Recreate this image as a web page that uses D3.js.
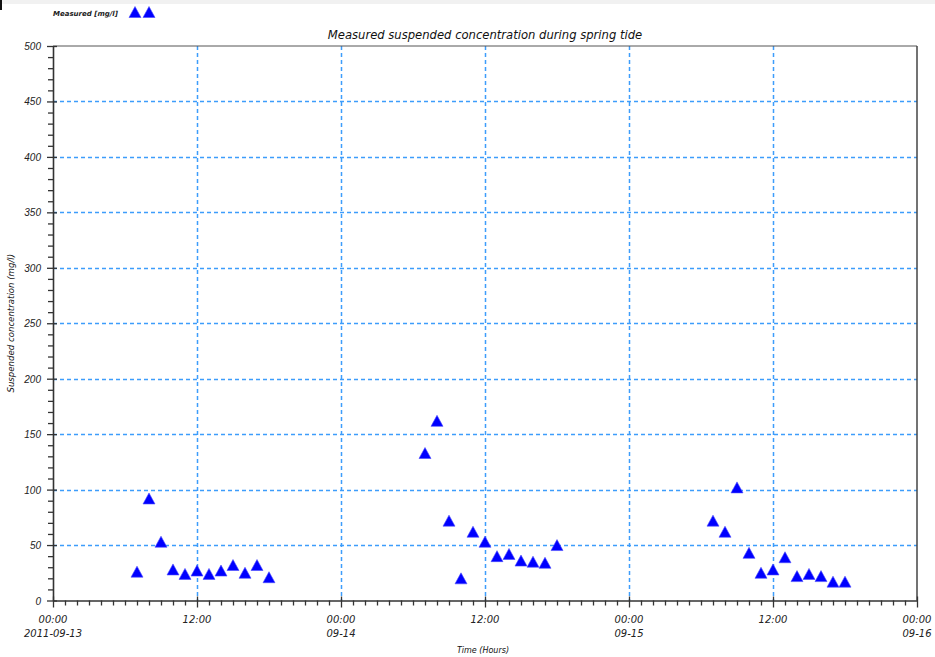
<!DOCTYPE html>
<html>
<head>
<meta charset="utf-8">
<script src="https://cdn.jsdelivr.net/npm/d3@7"></script>
<style>
  html, body { margin: 0; padding: 0; background: #fff; }
  svg { display: block; font-family: "DejaVu Sans", sans-serif; font-style: italic; }
</style>
</head>
<body>
<svg id="chart" width="935" height="657"></svg>
<script>
// Sample times (2011) and measured suspended concentration in mg/l
const sampleTimes = [
  "2011-09-13T07:00", "2011-09-13T08:00", "2011-09-13T09:00", "2011-09-13T10:00",
  "2011-09-13T11:00", "2011-09-13T12:00", "2011-09-13T13:00", "2011-09-13T14:00",
  "2011-09-13T15:00", "2011-09-13T16:00", "2011-09-13T17:00", "2011-09-13T18:00",
  "2011-09-14T07:00", "2011-09-14T08:00", "2011-09-14T09:00", "2011-09-14T10:00",
  "2011-09-14T11:00", "2011-09-14T12:00", "2011-09-14T13:00", "2011-09-14T14:00",
  "2011-09-14T15:00", "2011-09-14T16:00", "2011-09-14T17:00", "2011-09-14T18:00",
  "2011-09-15T07:00", "2011-09-15T08:00", "2011-09-15T09:00", "2011-09-15T10:00",
  "2011-09-15T11:00", "2011-09-15T12:00", "2011-09-15T13:00", "2011-09-15T14:00",
  "2011-09-15T15:00", "2011-09-15T16:00", "2011-09-15T17:00", "2011-09-15T18:00"
];
const measured = [
  26, 92, 53, 28, 24, 27, 24, 27, 32, 25, 32, 21,
  133, 162, 72, 20, 62, 53, 40, 42, 36, 35, 34, 50,
  72, 62, 102, 43, 25, 28, 39, 22, 24, 22, 17, 17
];

// Axis ticks and labels
const yTicks = [0, 50, 100, 150, 200, 250, 300, 350, 400, 450, 500];
const xTickTimes = ["2011-09-13T00:00", "2011-09-13T12:00", "2011-09-14T00:00",
                    "2011-09-14T12:00", "2011-09-15T00:00", "2011-09-15T12:00", "2011-09-16T00:00"];
const xTickLine1 = ["00:00", "12:00", "00:00", "12:00", "00:00", "12:00", "00:00"];
const xTickLine2 = ["2011-09-13", "", "09-14", "", "09-15", "", "09-16"];

const titleText = "Measured suspended concentration during spring tide";
const xTitle = "Time (Hours)";
const yTitle = "Suspended concentration (mg/l)";
const legendText = "Measured [mg/l]";

const parse = d3.timeParse("%Y-%m-%dT%H:%M");
const svg = d3.select("#chart");

const L = 53, R = 917, T = 46, B = 600.5;

const x = d3.scaleTime()
  .domain([parse(xTickTimes[0]), parse(xTickTimes[xTickTimes.length - 1])])
  .range([L, R]);
const y = d3.scaleLinear().domain([0, 500]).range([B, T]);

// thin grey strip along the very top
svg.append("rect").attr("x", 0).attr("y", 0).attr("width", 935).attr("height", 4).attr("fill", "#f1f1f1");
svg.append("rect").attr("x", 0).attr("y", 0).attr("width", 2).attr("height", 10).attr("fill", "#111");

// grid
const gridColor = "#3d9dfb";
svg.append("g").selectAll("line")
  .data(yTicks.filter(v => v > 0 && v < 500))
  .join("line")
  .attr("x1", L).attr("x2", R)
  .attr("y1", d => Math.round(y(d)) + 0.5).attr("y2", d => Math.round(y(d)) + 0.5)
  .attr("stroke", gridColor).attr("stroke-width", 1.5).attr("stroke-dasharray", "4,3");
svg.append("g").selectAll("line")
  .data(xTickTimes.slice(1, -1))
  .join("line")
  .attr("x1", d => Math.round(x(parse(d))) + 0.5).attr("x2", d => Math.round(x(parse(d))) + 0.5)
  .attr("y1", T).attr("y2", B)
  .attr("stroke", gridColor).attr("stroke-width", 1.5).attr("stroke-dasharray", "4,3");

// frame
svg.append("line").attr("x1", L).attr("x2", R).attr("y1", T).attr("y2", T).attr("stroke", "#555").attr("stroke-width", 1);
svg.append("line").attr("x1", R).attr("x2", R).attr("y1", T).attr("y2", B).attr("stroke", "#444").attr("stroke-width", 1.5);

// y axis
const yAxis = d3.axisLeft(y)
  .tickValues(d3.range(0, 501, 10))
  .tickSize(0)
  .tickFormat("");
const gy = svg.append("g").attr("transform", `translate(${L},0)`).call(yAxis);
gy.select(".domain").attr("stroke", "#333").attr("stroke-width", 1.6);
gy.selectAll(".tick").each(function(d) {
  const major = d % 50 === 0;
  d3.select(this).select("line")
    .attr("x1", major ? 4 : 0).attr("x2", major ? -6 : -5)
    .attr("stroke", "#333").attr("stroke-width", 1.3);
  if (major) {
    d3.select(this).append("text")
      .attr("x", -12).attr("dy", "0.35em")
      .attr("text-anchor", "end").attr("fill", "#222")
      .attr("font-size", 10).text(d);
  }
});

// x axis
const hourTicks = d3.timeHour.range(x.domain()[0], d3.timeHour.offset(x.domain()[1], 1));
const xAxis = d3.axisBottom(x).tickValues(hourTicks).tickSize(0).tickFormat("");
const gx = svg.append("g").attr("transform", `translate(0,${B})`).call(xAxis);
gx.select(".domain").attr("stroke", "#333").attr("stroke-width", 1.6);
gx.selectAll(".tick line").each(function(d) {
  const major = d.getHours() % 12 === 0;
  d3.select(this).attr("y1", major ? -4 : 0).attr("y2", major ? 7 : 5)
    .attr("stroke", "#333").attr("stroke-width", 1.3);
});
const xl = svg.append("g").selectAll("g").data(xTickTimes).join("g")
  .attr("transform", d => `translate(${x(parse(d))},0)`);
xl.append("text").attr("y", 623).attr("text-anchor", "middle").attr("fill", "#222").attr("font-size", 10)
  .text((d, i) => xTickLine1[i]);
xl.append("text").attr("y", 637).attr("text-anchor", "middle").attr("fill", "#222").attr("font-size", 10)
  .text((d, i) => xTickLine2[i]);

// titles
svg.append("text").attr("x", 485).attr("y", 39).attr("text-anchor", "middle")
  .attr("font-size", 11.6).attr("fill", "#111").text(titleText);
svg.append("text").attr("x", 483).attr("y", 653).attr("text-anchor", "middle")
  .attr("font-size", 8).attr("fill", "#111").text(xTitle);
svg.append("text").attr("transform", `translate(14,${(T + B) / 2}) rotate(-90)`)
  .attr("text-anchor", "middle").attr("font-size", 8.6).attr("fill", "#111").text(yTitle);

// triangle marker centred on the value
const tri = "M0,-5.5L6,5.5L-6,5.5Z";

// legend
svg.append("text").attr("x", 53).attr("y", 16).attr("font-size", 7).attr("font-weight", "bold")
  .attr("fill", "#222").text(legendText);
svg.append("g").selectAll("path").data([135, 149]).join("path")
  .attr("d", tri).attr("transform", d => `translate(${d},12)`)
  .attr("fill", "#0000ff").attr("stroke", "#4a4aff").attr("stroke-width", 0.6);

// measured points
svg.append("g").selectAll("path")
  .data(sampleTimes.map((t, i) => ({ t: parse(t), v: measured[i] })))
  .join("path")
  .attr("d", tri)
  .attr("transform", d => `translate(${x(d.t)},${y(d.v)})`)
  .attr("fill", "#0000ff").attr("stroke", "#4a4aff").attr("stroke-width", 0.6);
</script>
</body>
</html>
